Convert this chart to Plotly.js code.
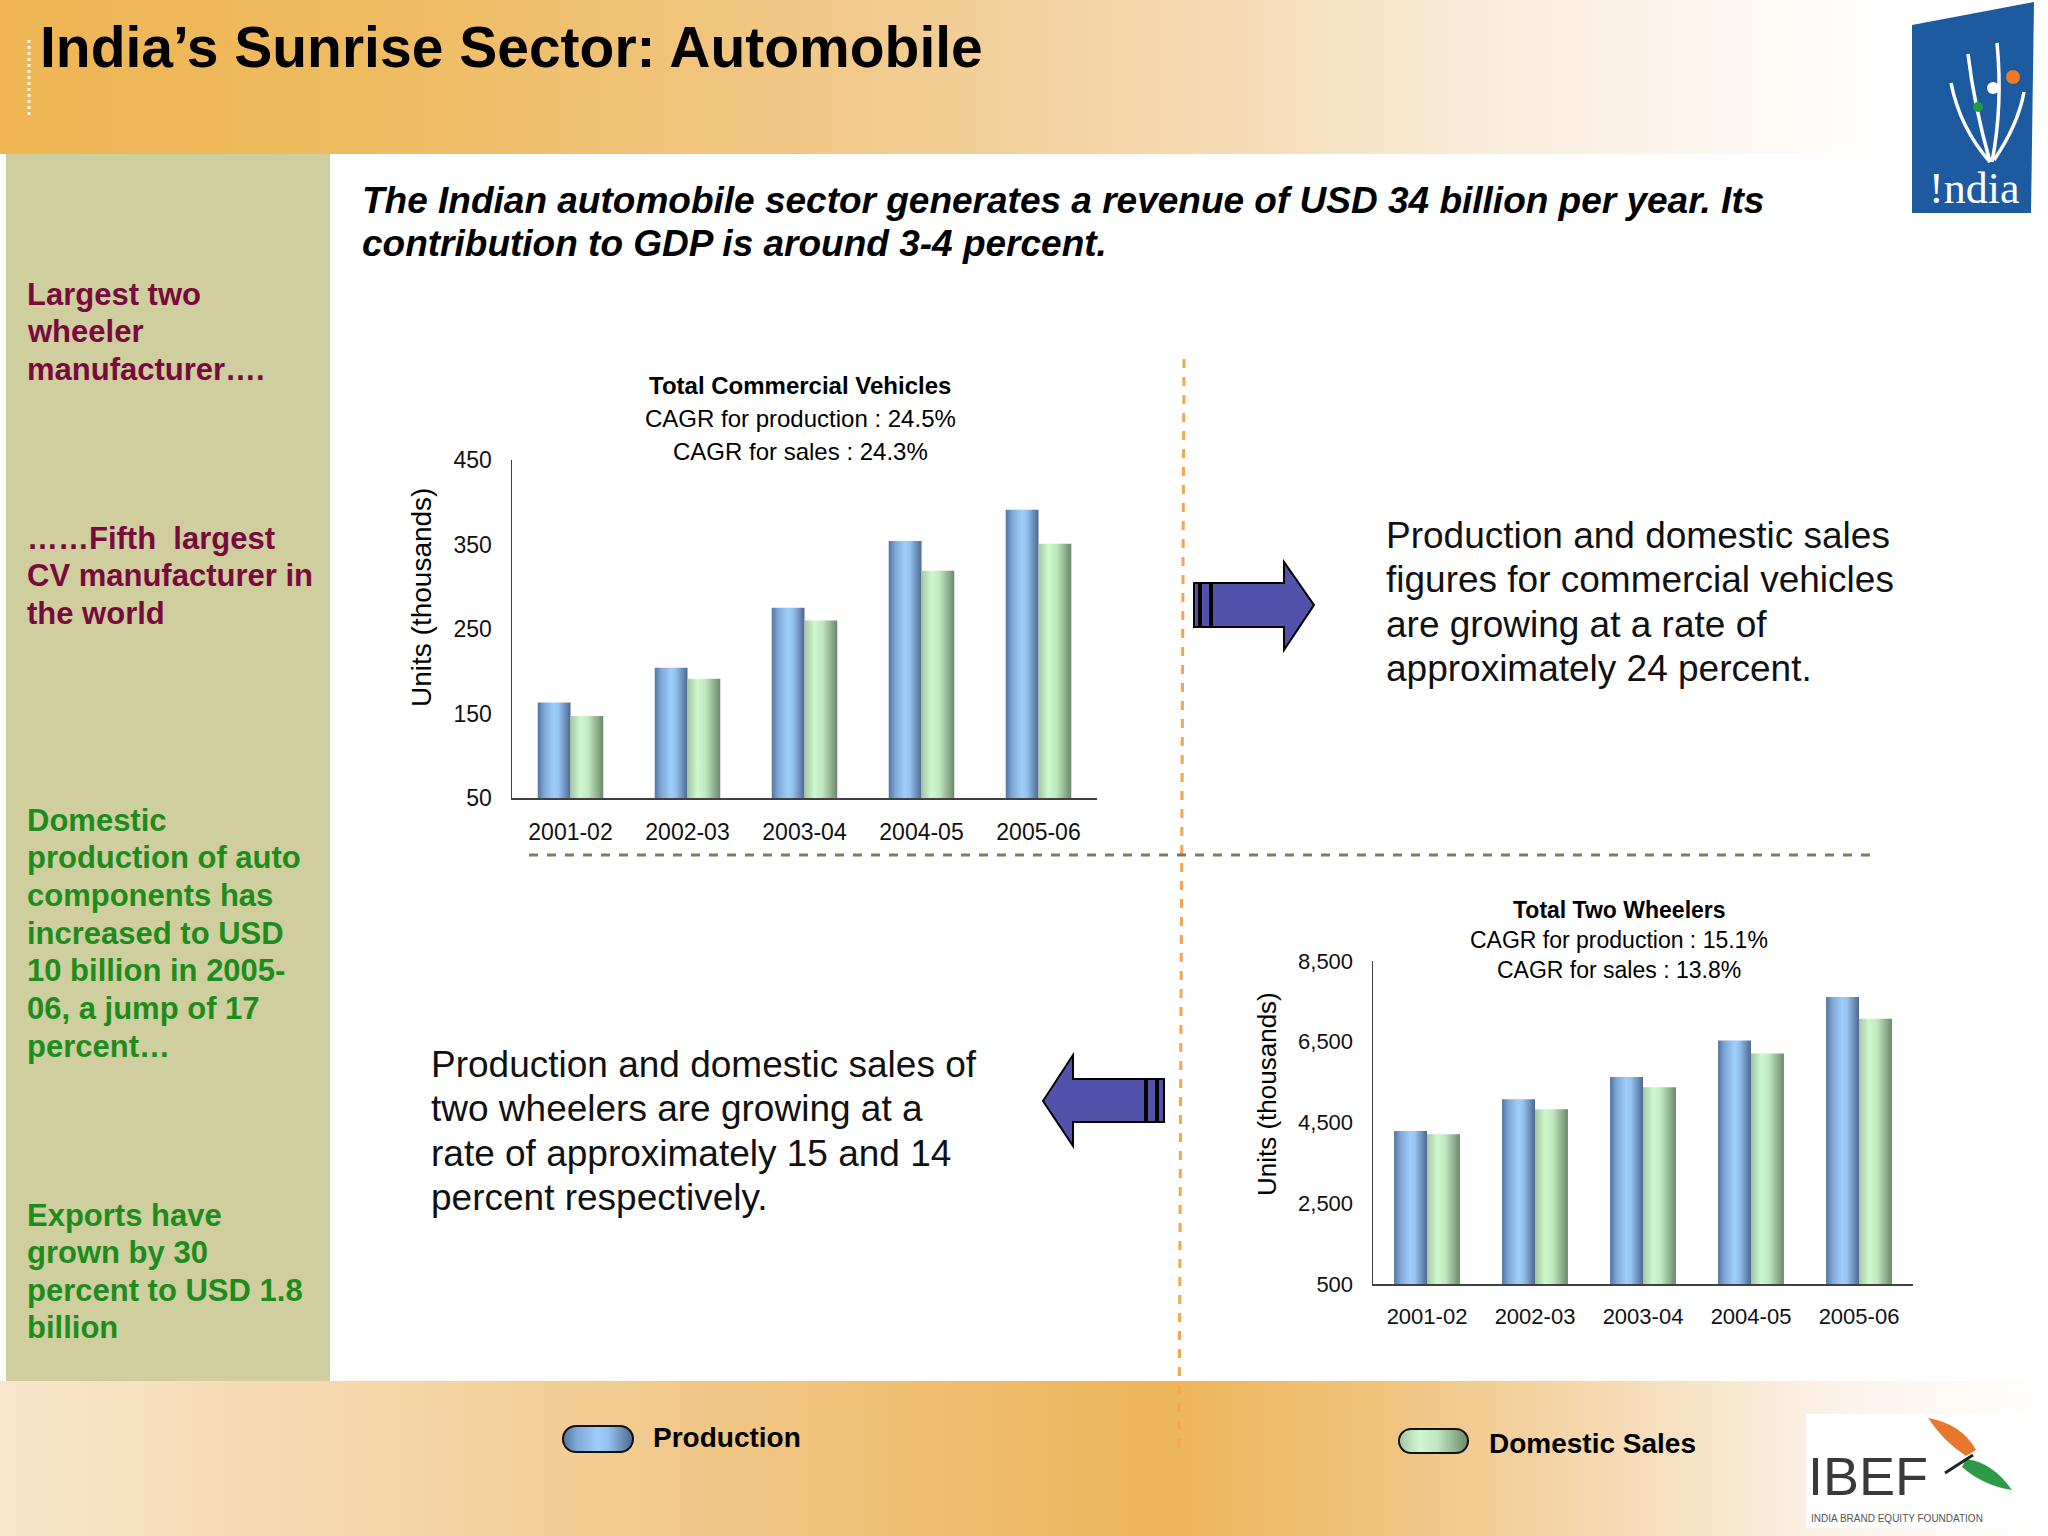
<!DOCTYPE html>
<html><head><meta charset="utf-8">
<script src="https://cdn.plot.ly/plotly-3.0.1.min.js"></script>
<style>
html,body{margin:0;padding:0;background:#fff;}
#chart{width:2048px;height:1536px;position:relative;
background:
 linear-gradient(#CFCE9F,#CFCE9F) 6px 154px / 324px 1227px no-repeat,
 linear-gradient(to right,#EEB552 0%,#EFBC63 20%,#F1C887 40%,#F5DBB5 60%,#F9EBD8 72%,#FDF8F2 85%,#FFFFFF 92%) 0 0 / 2048px 154px no-repeat,
 linear-gradient(to right,#F8E5CB 0%,#F4D5A6 20%,#F0C27C 40%,#EDB55A 57%,#F0C47F 68%,#F6DDBA 80%,#FCF3EA 90%,#FFFFFF 100%) 0 1381px / 2048px 155px no-repeat,
 #ffffff;}
</style></head>
<body><div id="chart"></div>
<script>
// ---------- data ----------
const categories = ['2001-02','2002-03','2003-04','2004-05','2005-06'];
const cvProduction = [163, 204, 275, 354, 391];
const cvSales = [147, 191, 260, 319, 351];
const twProduction = [4290, 5077, 5630, 6530, 7610];
const twSales = [4210, 4830, 5370, 6210, 7070];
const cvTicks = [50, 150, 250, 350, 450];
const twTicks = [500, 2500, 4500, 6500, 8500];
const seriesNames = ['Production', 'Domestic Sales'];

// ---------- helpers ----------
const W = 2048, H = 1536;
const px = x => x / W, py = y => 1 - y / H;
const pt = (x, y) => `${px(x).toFixed(5)},${py(y).toFixed(5)}`;
const FONT = 'Liberation Sans, Arial, sans-serif';
const annotations = [];
function txt(x, y, text, size, o = {}) {
  annotations.push({
    xref: 'paper', yref: 'paper', x: px(x), y: py(y), text: text, showarrow: false,
    xanchor: o.xanchor || 'left', yanchor: 'middle', textangle: o.angle || 0,
    font: { family: o.family || FONT, size: size, color: o.color || '#000',
            weight: o.weight || 400, style: o.style || 'normal' }
  });
}
function lines(x, y0, step, arr, size, o) { arr.forEach((t, i) => txt(x, y0 + i * step, t, size, o)); }
function poly(points) { return 'M' + points.map(p => pt(p[0], p[1])).join(' L') + ' Z'; }
function pill(x0, y0, x1, y1) {
  const r = (y1 - y0) / 2, k = 0.5523 * r, ym = (y0 + y1) / 2;
  return `M${pt(x0 + r, y0)} L${pt(x1 - r, y0)} C${pt(x1 - r + k, y0)} ${pt(x1, ym - k)} ${pt(x1, ym)} ` +
    `C${pt(x1, ym + k)} ${pt(x1 - r + k, y1)} ${pt(x1 - r, y1)} L${pt(x0 + r, y1)} ` +
    `C${pt(x0 + r - k, y1)} ${pt(x0, ym + k)} ${pt(x0, ym)} C${pt(x0, ym - k)} ${pt(x0 + r - k, y0)} ${pt(x0 + r, y0)} Z`;
}
const shapes = [];
function addShape(s) { shapes.push(Object.assign({ xref: 'paper', yref: 'paper' }, s)); return shapes.length - 1; }

// ---------- texts ----------
txt(38, 47, 'India’s Sunrise Sector: Automobile', 57, { weight: 700 });
lines(360, 200, 44, ['The Indian automobile sector generates a revenue of USD 34 billion per year. Its',
  'contribution to GDP is around 3-4 percent.'], 37, { weight: 700, style: 'italic' });

const maroon = '#780A3C', green = '#1D8C1D';
lines(25, 294, 37.8, ['Largest two', 'wheeler', 'manufacturer….'], 31, { weight: 700, color: maroon });
lines(25, 538, 37.8, ['……Fifth  largest', 'CV manufacturer in', 'the world'], 31, { weight: 700, color: maroon });
lines(25, 820, 37.7, ['Domestic', 'production of auto', 'components has', 'increased to USD',
  '10 billion in 2005-', '06, a jump of 17', 'percent…'], 31, { weight: 700, color: green });
lines(25, 1215, 37.5, ['Exports have', 'grown by 30', 'percent to USD 1.8', 'billion'], 31, { weight: 700, color: green });

lines(1384, 535, 44.5, ['Production and domestic sales', 'figures for commercial vehicles',
  'are growing at a rate of', 'approximately 24 percent.'], 37, { color: '#111' });
lines(429, 1064, 44.5, ['Production and domestic sales of', 'two wheelers are growing at a',
  'rate of approximately 15 and 14', 'percent respectively.'], 37, { color: '#111' });

// chart titles
txt(800, 385, 'Total Commercial Vehicles', 24, { xanchor: 'center', weight: 700 });
txt(800, 418, 'CAGR for production : 24.5%', 24, { xanchor: 'center' });
txt(800, 451, 'CAGR for sales : 24.3%', 24, { xanchor: 'center' });
txt(421, 598, 'Units (thousands)', 28, { xanchor: 'center', angle: -90 });

txt(1619, 910, 'Total Two Wheelers', 23, { xanchor: 'center', weight: 700 });
txt(1619, 940, 'CAGR for production : 15.1%', 23, { xanchor: 'center' });
txt(1619, 970, 'CAGR for sales : 13.8%', 23, { xanchor: 'center' });
txt(1267, 1094, 'Units (thousands)', 26, { xanchor: 'center', angle: -90 });

// legend texts
txt(651, 1437, seriesNames[0], 28, { weight: 700 });
txt(1487, 1443, seriesNames[1], 28, { weight: 700 });

// ---------- shapes ----------
addShape({ type: 'line', x0: px(1184), y0: py(359), x1: px(1179), y1: py(1452), line: { color: '#F5A54A', width: 3, dash: 'dash' } });
addShape({ type: 'line', x0: px(529), y0: py(855), x1: px(1877), y1: py(855), line: { color: '#7C7F5E', width: 3, dash: 'dash' } });
addShape({ type: 'line', x0: px(29), y0: py(40), x1: px(29), y1: py(118), line: { color: 'rgba(255,255,255,0.85)', width: 3, dash: 'dot' } });

const arrowFill = '#5252AA', arrowLine = { color: '#000', width: 2 };
addShape({ type: 'path', path: poly([[1212, 583], [1284, 583], [1284, 562], [1314, 605], [1284, 650], [1284, 627], [1212, 627]]), fillcolor: arrowFill, line: arrowLine });
addShape({ type: 'path', path: poly([[1194, 583], [1199, 583], [1199, 627], [1194, 627]]), fillcolor: arrowFill, line: arrowLine });
addShape({ type: 'path', path: poly([[1201, 583], [1210, 583], [1210, 627], [1201, 627]]), fillcolor: arrowFill, line: arrowLine });
addShape({ type: 'path', path: poly([[1043, 1101], [1073, 1055], [1073, 1079], [1145, 1079], [1145, 1122], [1073, 1122], [1073, 1146]]), fillcolor: arrowFill, line: arrowLine });
addShape({ type: 'path', path: poly([[1147, 1079], [1156, 1079], [1156, 1122], [1147, 1122]]), fillcolor: arrowFill, line: arrowLine });
addShape({ type: 'path', path: poly([[1158, 1079], [1164, 1079], [1164, 1122], [1158, 1122]]), fillcolor: arrowFill, line: arrowLine });

// India logo
addShape({ type: 'path', path: poly([[1912, 25], [2034, 2], [2031, 213], [1912, 213]]), fillcolor: '#1D5AA0', line: { width: 0 } });
const swoosh = { color: '#ffffff', width: 3.5 };
[[1990, 162, 1960, 128, 1951, 83], [1990, 162, 1974, 105, 1968, 54], [1992, 162, 2003, 105, 1997, 43], [1994, 160, 2018, 125, 2024, 92]]
  .forEach(c => addShape({ type: 'path', path: `M${pt(c[0], c[1])} Q${pt(c[2], c[3])} ${pt(c[4], c[5])}`, fillcolor: 'rgba(0,0,0,0)', line: swoosh }));
function dot(x, y, r, c) { addShape({ type: 'circle', x0: px(x - r), x1: px(x + r), y0: py(y + r), y1: py(y - r), fillcolor: c, line: { width: 0 } }); }
dot(2013, 77, 7, '#EE7A2A'); dot(1993, 88, 6, '#ffffff'); dot(1978, 107, 5, '#1F9A45');
txt(1974, 188, '!ndia', 44, { xanchor: 'center', color: '#ffffff', family: 'Liberation Serif, serif' });

// IBEF logo
addShape({ type: 'rect', x0: px(1806), x1: px(2024), y0: py(1528), y1: py(1414), fillcolor: '#ffffff', line: { width: 0 } });
addShape({ type: 'path', path: `M${pt(1928, 1418)} Q${pt(1962, 1424)} ${pt(1976, 1450)} L${pt(1966, 1456)} Q${pt(1944, 1442)} ${pt(1928, 1418)} Z`, fillcolor: '#E8772E', line: { width: 0 } });
addShape({ type: 'path', path: `M${pt(1966, 1459)} Q${pt(1992, 1462)} ${pt(2012, 1490)} Q${pt(1984, 1486)} ${pt(1962, 1467)} Z`, fillcolor: '#2E9A48', line: { width: 0 } });
addShape({ type: 'line', x0: px(1945), y0: py(1473), x1: px(1973), y1: py(1455), line: { color: '#222', width: 3 } });
txt(1806, 1476, 'IBEF', 54, { color: '#3a3a3a' });
txt(1809, 1518, 'INDIA BRAND EQUITY FOUNDATION', 10, { color: '#555' });

// legend pills
const pillProd = addShape({ type: 'path', path: pill(563, 1426, 633, 1452), fillcolor: '#7FA9DA', line: { color: '#111', width: 2 } });
const pillSales = addShape({ type: 'path', path: pill(1399, 1429, 1468, 1453), fillcolor: '#B4DDB0', line: { color: '#111', width: 2 } });

// ---------- traces ----------
const prodColor = '#7FA9DA', salesColor = '#B4DDB0';
function bar(y, xa, ya, color, w, off, name) {
  return { type: 'bar', x: categories, y: y, xaxis: xa, yaxis: ya, width: w, offset: off, name: name,
    marker: { color: color, line: { width: 0 } }, showlegend: false, hoverinfo: 'x+y' };
}
const data = [
  bar(cvProduction, 'x', 'y', prodColor, 0.28, -0.28, seriesNames[0]),
  bar(cvSales, 'x', 'y', salesColor, 0.28, 0, seriesNames[1]),
  bar(twProduction, 'x2', 'y2', prodColor, 0.305, -0.305, seriesNames[0]),
  bar(twSales, 'x2', 'y2', salesColor, 0.305, 0, seriesNames[1])
];

const axBase = { showgrid: false, zeroline: false, showline: true, linecolor: '#404040', linewidth: 1.5, ticks: '' };
const layout = {
  width: W, height: H, margin: { l: 0, r: 0, t: 0, b: 0 },
  paper_bgcolor: 'rgba(0,0,0,0)', plot_bgcolor: 'rgba(0,0,0,0)',
  barmode: 'overlay', showlegend: false,
  font: { family: FONT, color: '#111' },
  xaxis: Object.assign({}, axBase, { type: 'category', domain: [px(512), px(1097)], anchor: 'y', tickfont: { size: 23 }, ticklabelstandoff: 13 }),
  yaxis: Object.assign({}, axBase, { type: 'linear', domain: [py(798), py(460)], anchor: 'x', range: [50, 450], tickvals: cvTicks, tickfont: { size: 23 }, ticklabelstandoff: 14 }),
  xaxis2: Object.assign({}, axBase, { type: 'category', domain: [px(1373), px(1913)], anchor: 'y2', tickfont: { size: 22 }, ticklabelstandoff: 12 }),
  yaxis2: Object.assign({}, axBase, { type: 'linear', domain: [py(1284), py(961)], anchor: 'x2', range: [500, 8500], tickvals: twTicks, tickformat: ',', tickfont: { size: 22 }, ticklabelstandoff: 14 }),
  shapes: shapes, annotations: annotations
};

Plotly.newPlot('chart', data, layout, { displayModeBar: false, staticPlot: true }).then(gd => {
  const svgNS = 'http://www.w3.org/2000/svg';
  const defs = gd.querySelector('.main-svg defs');
  function grad(id, stops) {
    const g = document.createElementNS(svgNS, 'linearGradient');
    g.setAttribute('id', id); g.setAttribute('x1', '0'); g.setAttribute('x2', '1'); g.setAttribute('y1', '0'); g.setAttribute('y2', '0');
    stops.forEach(s => { const st = document.createElementNS(svgNS, 'stop'); st.setAttribute('offset', s[0]); st.setAttribute('stop-color', s[1]); g.appendChild(st); });
    defs.appendChild(g);
  }
  grad('gBlue', [['0', '#55749F'], ['0.2', '#7EA8D8'], ['0.5', '#A0CEFA'], ['0.65', '#93C0EE'], ['1', '#4C6890']]);
  grad('gGreen', [['0', '#A3C5A3'], ['0.3', '#CFF8CF'], ['0.55', '#C0E8C0'], ['1', '#6C8869']]);
  const blueRGB = 'rgb(127, 169, 218)';
  gd.querySelectorAll('.barlayer .trace path').forEach(p => {
    p.style.fill = (p.style.fill === blueRGB) ? 'url(#gBlue)' : 'url(#gGreen)';
  });
  const sp = gd.querySelector(`.shapelayer path[data-index="${pillProd}"]`);
  if (sp) sp.style.fill = 'url(#gBlue)';
  const ss = gd.querySelector(`.shapelayer path[data-index="${pillSales}"]`);
  if (ss) ss.style.fill = 'url(#gGreen)';
});
</script>
</body></html>
